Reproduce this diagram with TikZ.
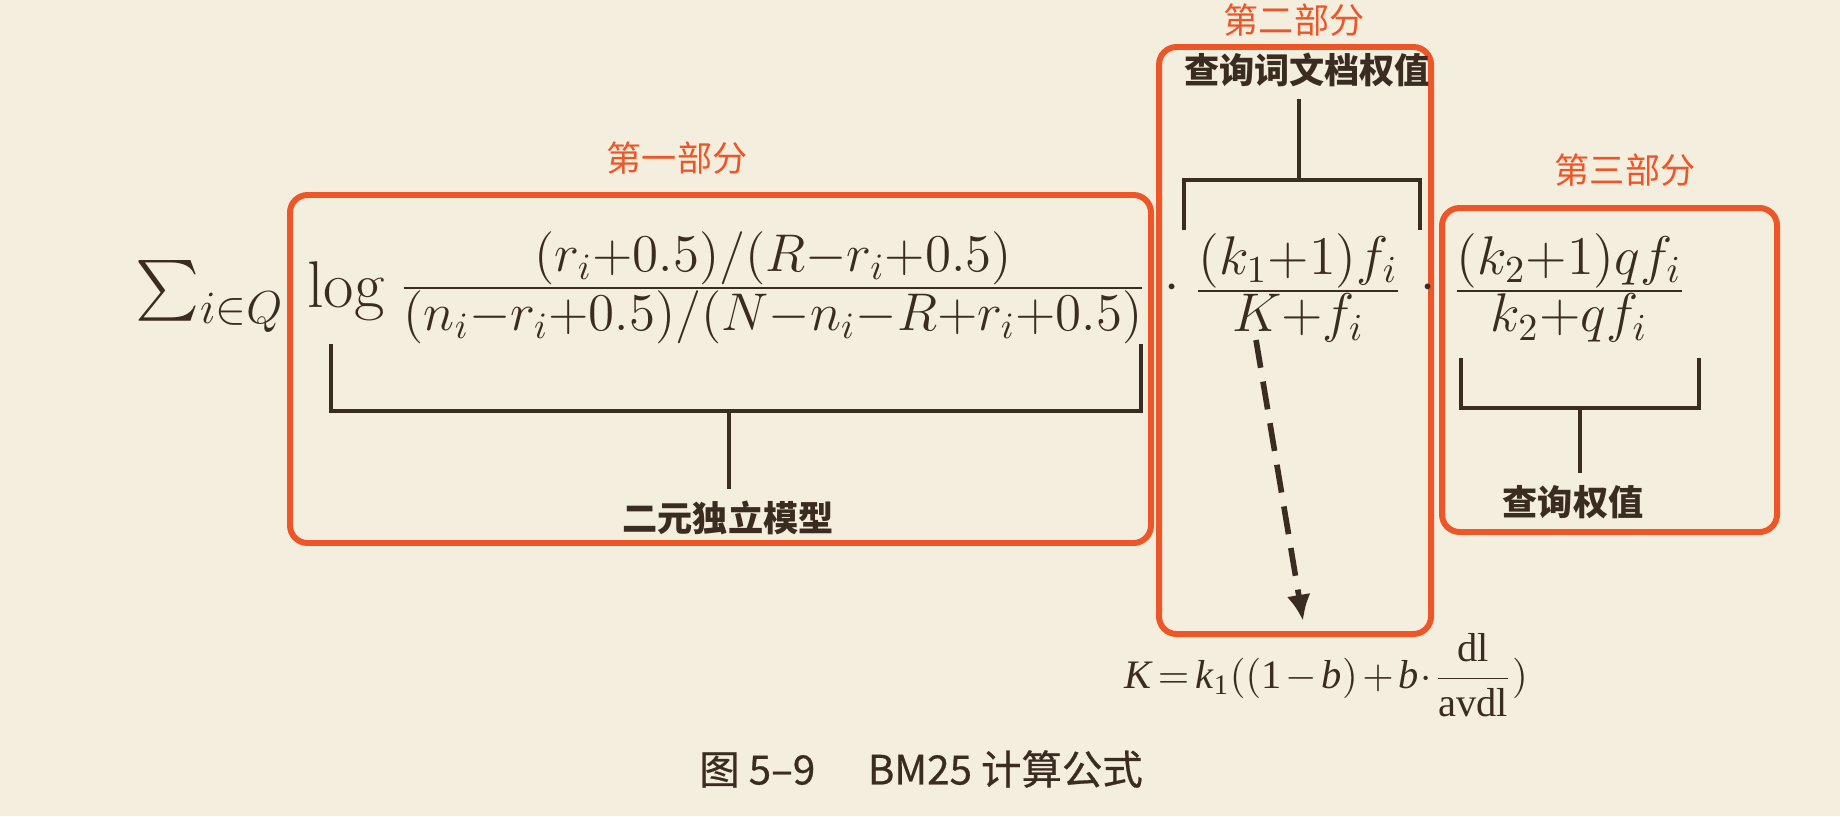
\documentclass[tikz,border=0pt]{standalone}
\usepackage{fix-cm}
\usepackage{amsmath}
\usepackage{fontspec}
\newfontfamily\cjk{Noto Sans CJK SC}
\newfontfamily\capfont[FakeBold=0.6]{Noto Sans CJK SC}
\newfontfamily\kfont{Liberation Serif}
\usetikzlibrary{arrows.meta}
\definecolor{paper}{HTML}{F4EEDF}
\definecolor{ink}{HTML}{3A2C20}
\definecolor{hilite}{HTML}{EE5527}
\newcommand\tfr[2]{\frac{\textstyle #1}{\textstyle #2}}

\begin{document}
\begin{tikzpicture}[
	part/.style={draw=hilite, line width=1.7pt, rounded corners=5pt},
	partname/.style={text=hilite, font=\cjk\fontsize{10}{12}\selectfont},
	tag/.style={text=ink, font=\cjk\bfseries\fontsize{10}{12}\selectfont},
	brace/.style={draw=ink, line width=1pt},
	eq/.style={text=ink, font=\fontsize{15.5}{19}\selectfont},
	big/.style={text=ink, font=\fontsize{18.8}{22}\selectfont}]
	\fill[paper] (0,0) rectangle (18.4,8.16);
	\useasboundingbox (0,0) rectangle (18.4,8.16);
	\draw[part] (2.90,2.73) rectangle (11.51,6.21);
	\draw[part] (11.59,1.82) rectangle (14.31,7.69);
	\draw[part] (14.42,2.84) rectangle (17.77,6.08);
	\node[partname] (p1) at (6.77,6.58) {第一部分};
	\node[partname] (p2) at (12.94,7.96) {第二部分};
	\node[partname] (p3) at (16.25,6.46) {第三部分};
	\node[big, anchor=base] (sum) at (2.10,5.09) {$\sum_{i\in Q}$};
	\node[big, anchor=base, inner sep=1pt] (log) at (3.46,5.09) {$\log$};
	\node[eq, inner sep=1pt, font=\fontsize{15.1}{18}\selectfont] (f1) at (7.73,5.28) {$\tfr{(r_i{+}0.5)/(R{-}r_i{+}0.5)}{(n_i{-}r_i{+}0.5)/(N{-}n_i{-}R{+}r_i{+}0.5)}$};
	\node[eq] (d1) at (11.72,5.28) {$\cdot$};
	\node[eq] (f2) at (12.98,5.28) {$\tfr{(k_1{+}1)f_i}{K{+}f_i}$};
	\node[eq] (d2) at (14.28,5.28) {$\cdot$};
	\node[eq] (f3) at (15.69,5.28) {$\tfr{(k_2{+}1)qf_i}{k_2{+}qf_i}$};
	\node[tag] (m1) at (7.28,2.98) {二元独立模型};
	\node[tag] (m2) at (13.07,7.46) {查询词文档权值};
	\node[tag] (m3) at (15.73,3.14) {查询权值};
	\coordinate (b1) at (7.29,4.05);
	\coordinate (b2) at (12.99,6.36);
	\coordinate (b3) at (15.80,4.08);
	\draw[brace] (3.31,4.72) |- (11.41,4.05) -- (11.41,4.72);
	\draw[brace] (11.84,5.86) |- (14.20,6.36) -- (14.20,5.86);
	\draw[brace] (14.61,4.58) |- (16.99,4.08) -- (16.99,4.58);
	\draw[brace] (b1) -- (b1 |- m1.north);
	\draw[brace] (b2) -- (b2 |- m2.south);
	\draw[brace] (b3) -- (b3 |- m3.north);
	\node[text=ink, font=\kfont\fontsize{11.5}{14}\selectfont] (kf) at (13.26,1.41) {$\textit{K}\mkern3mu{=}\mkern3mu\textit{k}_{\text{1}}((\text{1}\mkern2mu{-}\mkern2mu\textit{b})\mkern2mu{+}\mkern2mu\textit{b}\mkern1mu{\cdot}\mkern1mu\dfrac{\text{dl}}{\text{avdl}})$};
	\coordinate (ka) at (12.56,4.76);
	\draw[ink, line width=1.6pt, dash pattern=on 8pt off 4pt, -{Latex[length=2.6mm, width=2.4mm]}] (ka) -- ([xshift=-0.23cm]kf.north);
	\node[text=ink, font=\capfont\fontsize{11.5}{14}\selectfont] (cap) at (9.21,0.47) {图 5–9\hspace{1.3em}BM25 计算公式};
\end{tikzpicture}
\end{document}
